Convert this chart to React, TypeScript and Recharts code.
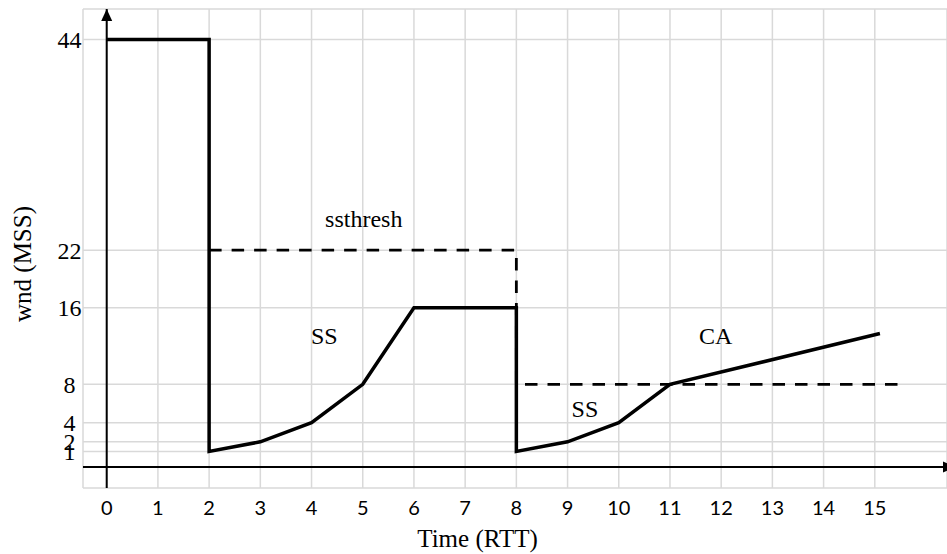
import React from 'react'
import {
  LineChart, Line, XAxis, YAxis, CartesianGrid,
  ReferenceLine, ReferenceDot, Label,
} from 'recharts'

// time ticks (RTT) and the uneven wnd ticks on the y axis
const timeTicks = [0, 1, 2, 3, 4, 5, 6, 7, 8, 9, 10, 11, 12, 13, 14, 15]
const wndTicks = [1, 2, 4, 8, 16, 22, 44]

// congestion window
const wndTime = [0, 2, 2, 3, 4, 5, 6, 7, 8, 8, 9, 10, 11, 15.1]
const wndValues = [44, 44, 1, 2, 4, 8, 16, 16, 16, 1, 2, 4, 8, 13.3]

// slow start threshold (dashed)
const ssthreshTime = [2, 8, 8, 15.6]
const ssthreshValues = [22, 22, 8, 8]

// phase notes
const noteText = ['ssthresh', 'SS', 'SS', 'CA']
const noteTime = [5.02, 4.25, 9.34, 11.89]
const noteWnd = [25.3, 13.1, 5.45, 13.1]

const X_DOMAIN: [number, number] = [-0.463, 16.41]
const Y_DOMAIN: [number, number] = [-2.82, 47.18]
const X_AXIS_AT = -0.626

const SERIF = '"Liberation Serif", "Times New Roman", serif'
const SANS = 'Lato, Calibri, "Noto Sans", sans-serif'

const wndData = wndTime.map((t, i) => ({ t, wnd: wndValues[i] }))
const ssthreshData = ssthreshTime.map((t, i) => ({ t, ssthresh: ssthreshValues[i] }))

function YTitle(props: any) {
  const vb = props.viewBox || { x: 0, y: 9, width: 83, height: 479 }
  const x = vb.x + 31
  const y = vb.y + vb.height / 2 + 15.5
  return (
    <text x={x} y={y} transform={`rotate(-90, ${x}, ${y})`} textAnchor="middle"
      fontFamily={SERIF} fontSize={25} fill="#000">
      wnd (MSS)
    </text>
  )
}

function XTitle(props: any) {
  const vb = props.viewBox || { x: 83, y: 488, width: 864, height: 66 }
  return (
    <text x={vb.x + vb.width / 2 - 37.5} y={vb.y + 58.5} textAnchor="middle"
      fontFamily={SERIF} fontSize={25} fill="#000">
      Time (RTT)
    </text>
  )
}

export default function App() {
  return (
    <div style={{ position: 'absolute', left: 0, top: 0, width: 947, height: 554, overflow: 'hidden', background: '#fff' }}>
      <LineChart width={947} height={554} margin={{ top: 9, right: 0, bottom: 0, left: 0 }}>
        <defs>
          <marker id="arrowTip" viewBox="0 0 12 12" refX={12} refY={6} markerWidth={12} markerHeight={12}
            markerUnits="userSpaceOnUse" orient="auto">
            <path d="M0,0.5 L12,6 L0,11.5 z" fill="#000" />
          </marker>
          <marker id="arrowCut" viewBox="0 0 12 12" refX={4} refY={6} markerWidth={12} markerHeight={12}
            markerUnits="userSpaceOnUse" orient="auto">
            <path d="M0,0.5 L12,6 L0,11.5 z" fill="#000" />
          </marker>
        </defs>
        <CartesianGrid stroke="#d9d9d9" strokeWidth={1.5} />
        <XAxis
          type="number"
          dataKey="t"
          domain={X_DOMAIN}
          allowDataOverflow
          ticks={timeTicks}
          interval={0}
          height={66}
          axisLine={false}
          tickLine={false}
          tickSize={0}
          tickMargin={13}
          tick={{ fontFamily: SANS, fontSize: 20, fill: '#000' }}
        >
          <Label content={<XTitle />} />
        </XAxis>
        <YAxis
          type="number"
          domain={Y_DOMAIN}
          allowDataOverflow
          ticks={wndTicks}
          interval={0}
          width={83}
          axisLine={false}
          tickLine={false}
          tickSize={0}
          tickMargin={13.5}
          tick={{ fontFamily: SERIF, fontSize: 24, fill: '#000', textAnchor: 'middle' }}
        >
          <Label content={<YTitle />} />
        </YAxis>

        <ReferenceLine
          segment={[{ x: X_DOMAIN[0], y: X_AXIS_AT }, { x: X_DOMAIN[1], y: X_AXIS_AT }]}
          ifOverflow="visible"
          stroke="#000"
          strokeWidth={2}
          markerEnd="url(#arrowCut)"
        />
        <ReferenceLine
          segment={[{ x: 0, y: Y_DOMAIN[0] }, { x: 0, y: Y_DOMAIN[1] }]}
          ifOverflow="visible"
          stroke="#000"
          strokeWidth={2}
          markerEnd="url(#arrowTip)"
        />

        <Line
          data={ssthreshData}
          dataKey="ssthresh"
          type="linear"
          stroke="#000"
          strokeWidth={2.8}
          strokeDasharray="12.5 10"
          dot={false}
          activeDot={false}
          isAnimationActive={false}
        />
        <Line
          data={wndData}
          dataKey="wnd"
          type="linear"
          stroke="#000"
          strokeWidth={3.5}
          dot={false}
          activeDot={false}
          isAnimationActive={false}
        />

        {noteText.map((text, i) => (
          <ReferenceDot
            key={i}
            x={noteTime[i]}
            y={noteWnd[i]}
            r={1}
            fill="none"
            stroke="none"
            label={{ value: text, position: 'center', fontFamily: SERIF, fontSize: 24, fill: '#000' }}
          />
        ))}
      </LineChart>
    </div>
  )
}
